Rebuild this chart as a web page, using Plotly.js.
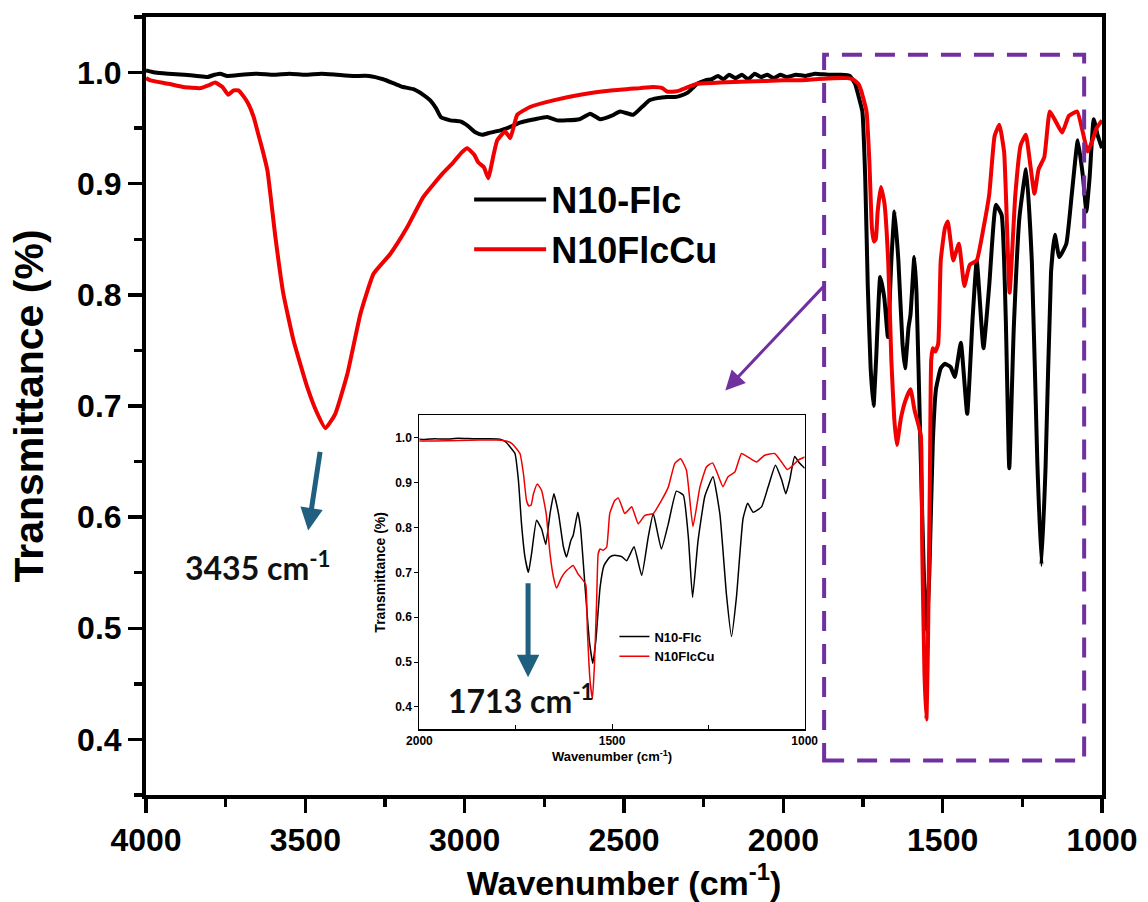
<!DOCTYPE html>
<html>
<head>
<meta charset="utf-8">
<script src="https://cdn.plot.ly/plotly-3.0.1.min.js"></script>
<style>html,body{margin:0;padding:0;background:#fff;}#chart{width:1148px;height:902px;}</style>
</head>
<body>
<div id="chart"></div>
<script>
// ---- data ----
const seriesNames = ["N10-Flc", "N10FlcCu"];
const wnBlack = [4000,3970,3930,3880,3840,3807,3785,3767,3745,3700,3650,3600,3550,3500,3450,3400,3350,3300,3256,3220,3193,3161,3130,3108,3090,3075,3045,3014,2990,2965,2945,2920,2888,2866,2826,2780,2741,2710,2679,2640,2606,2575,2540,2512,2471,2440,2420,2395,2365,2340,2324,2300,2285,2270,2245,2225,2205,2188,2170,2150,2130,2110,2090,2070,2050,2030,2010,1990,1960,1930,1900,1860,1820,1791,1775,1765,1752,1743,1735,1726,1717,1709,1696,1683,1672,1661,1651,1639,1626,1618,1607,1601,1589,1582,1570,1559,1550,1542,1531,1521,1506,1493,1475,1462,1443,1423,1406,1393,1372,1354,1333,1315,1302,1291,1277,1259,1238,1220,1203,1190,1177,1160,1148,1134,1112,1095,1076,1060,1049,1039,1026,1013,1000];
const tBlack = [1.002,1.000,0.999,0.998,0.997,0.996,0.998,0.999,0.997,0.998,0.999,0.998,0.999,0.998,0.999,0.998,0.997,0.997,0.994,0.990,0.987,0.985,0.980,0.975,0.968,0.960,0.957,0.956,0.952,0.946,0.944,0.946,0.948,0.950,0.955,0.958,0.960,0.957,0.957,0.958,0.963,0.958,0.961,0.965,0.962,0.970,0.975,0.977,0.978,0.978,0.979,0.982,0.986,0.990,0.993,0.994,0.997,0.994,0.998,0.995,0.998,0.994,0.999,0.996,0.998,0.995,0.998,0.996,0.998,0.997,0.999,0.998,0.998,0.997,0.990,0.980,0.965,0.905,0.808,0.734,0.700,0.741,0.816,0.797,0.762,0.831,0.875,0.831,0.756,0.734,0.771,0.782,0.834,0.801,0.667,0.548,0.497,0.548,0.667,0.715,0.734,0.738,0.735,0.726,0.757,0.693,0.779,0.831,0.752,0.808,0.881,0.872,0.779,0.644,0.769,0.870,0.913,0.829,0.650,0.557,0.646,0.820,0.854,0.834,0.846,0.890,0.939,0.907,0.875,0.905,0.958,0.943,0.932];
const wnRed = [4000,3986,3930,3883,3830,3800,3783,3760,3742,3725,3710,3695,3679,3662,3648,3634,3619,3594,3569,3537,3494,3462,3437,3406,3368,3327,3286,3233,3180,3130,3067,3036,3010,2992,2970,2957,2940,2926,2910,2898,2873,2857,2835,2795,2722,2637,2534,2450,2408,2380,2365,2340,2324,2290,2270,2200,2113,2000,1957,1900,1843,1800,1782,1765,1756,1739,1730,1722,1716,1710,1704,1694,1683,1671,1661,1652,1644,1631,1618,1601,1588,1575,1568,1564,1557,1551,1546,1540,1536,1531,1523,1514,1506,1493,1484,1475,1467,1449,1432,1415,1393,1372,1354,1337,1322,1307,1290,1272,1255,1239,1225,1212,1199,1181,1164,1147,1125,1104,1078,1060,1045,1030,1017,1000];
const tRed = [0.995,0.993,0.990,0.987,0.986,0.989,0.991,0.987,0.980,0.984,0.984,0.979,0.972,0.960,0.945,0.930,0.912,0.852,0.801,0.759,0.717,0.693,0.680,0.693,0.729,0.783,0.819,0.837,0.861,0.888,0.910,0.919,0.928,0.932,0.926,0.919,0.915,0.905,0.925,0.939,0.947,0.941,0.962,0.969,0.975,0.980,0.984,0.986,0.987,0.986,0.983,0.983,0.984,0.988,0.990,0.991,0.992,0.993,0.993,0.994,0.995,0.995,0.994,0.990,0.984,0.965,0.920,0.860,0.848,0.850,0.875,0.897,0.883,0.831,0.741,0.689,0.665,0.689,0.704,0.715,0.696,0.682,0.672,0.570,0.458,0.418,0.488,0.637,0.741,0.752,0.749,0.756,0.831,0.860,0.866,0.848,0.831,0.846,0.808,0.827,0.831,0.860,0.890,0.943,0.953,0.928,0.802,0.890,0.935,0.944,0.917,0.891,0.913,0.924,0.965,0.957,0.946,0.961,0.965,0.946,0.929,0.939,0.950,0.957];
const xTicks = [4000,3500,3000,2500,2000,1500,1000];
const yTicks = [0.4,0.5,0.6,0.7,0.8,0.9,1.0];
const insetXTicks = [2000,1500,1000];
const peakLabels = ["3435 cm<sup>-1</sup>", "1713 cm<sup>-1</sup>"];

// ---- styles ----
const BLACK = "#000000", RED = "#f00000", PURPLE = "#7030a0", TEAL = "#1f6080";
const AR = "Liberation Sans, Arial, sans-serif";

function tr(x, y, name, color, w, xa, ya, legendId, show) {
  return {x: x, y: y, name: name, type: "scatter", mode: "lines",
    line: {color: color, width: w, shape: "spline", smoothing: 0.4},
    xaxis: xa, yaxis: ya, legend: legendId, showlegend: show, hoverinfo: "skip"};
}

const data = [
  tr(wnBlack, tBlack, seriesNames[0], BLACK, 4, "x", "y", "legend", true),
  tr(wnRed, tRed, seriesNames[1], RED, 4, "x", "y", "legend", true),
  tr(wnBlack, tBlack, seriesNames[0], BLACK, 1.5, "x2", "y2", "legend2", true),
  tr(wnRed, tRed, seriesNames[1], RED, 1.5, "x2", "y2", "legend2", true)
];

const layout = {
  width: 1148, height: 902,
  margin: {l: 146, r: 46, t: 17, b: 107},
  paper_bgcolor: "#ffffff", plot_bgcolor: "#ffffff",
  font: {family: AR, color: "#000"},
  xaxis: {
    domain: [0, 1], range: [4000, 1000], tickvals: xTicks,
    ticks: "outside", ticklen: 14, tickwidth: 3.5, tickcolor: "#000",
    minor: {dtick: 250, tick0: 1000, ticks: "outside", ticklen: 8, tickwidth: 3.5, tickcolor: "#000", showgrid: false},
    showline: true, linewidth: 4, linecolor: "#000", mirror: true,
    showgrid: false, zeroline: false,
    tickfont: {family: AR, size: 32, weight: "bold", color: "#000"},
    title: {text: "Wavenumber (cm<sup>-1</sup>)", standoff: 0,
      font: {family: AR, size: 34, weight: "bold", color: "#000"}}
  },
  yaxis: {
    domain: [0, 1], range: [0.35, 1.05], tickvals: yTicks, tickformat: ".1f",
    ticks: "outside", ticklen: 14, tickwidth: 3.5, tickcolor: "#000",
    minor: {dtick: 0.1, tick0: 0.45, ticks: "outside", ticklen: 8, tickwidth: 3.5, tickcolor: "#000", showgrid: false},
    showline: true, linewidth: 4, linecolor: "#000", mirror: true,
    showgrid: false, zeroline: false,
    tickfont: {family: AR, size: 32, weight: "bold", color: "#000"},
    title: {text: "Transmittance (%)", standoff: 22,
      font: {family: AR, size: 41, weight: "bold", color: "#000"}}
  },
  xaxis2: {
    domain: [0.286, 0.689], anchor: "y2", range: [2000, 1000], tickvals: insetXTicks,
    ticks: "inside", ticklen: 5, tickwidth: 1, tickcolor: "#000",
    minor: {dtick: 250, tick0: 1000, ticks: "inside", ticklen: 4, tickwidth: 1, tickcolor: "#000", showgrid: false},
    showline: true, linewidth: 1.2, linecolor: "#000", mirror: true,
    showgrid: false, zeroline: false,
    tickfont: {family: AR, size: 12, weight: "bold", color: "#000"},
    title: {text: "Wavenumber (cm<sup>-1</sup>)", standoff: 4,
      font: {family: AR, size: 13, weight: "bold", color: "#000"}}
  },
  yaxis2: {
    domain: [0.0844, 0.488], anchor: "x2", range: [0.35, 1.05], tickvals: yTicks, tickformat: ".1f",
    ticks: "outside", ticklen: 4, tickwidth: 1, tickcolor: "#000",
    showline: true, linewidth: 1.2, linecolor: "#000", mirror: true,
    showgrid: false, zeroline: false,
    tickfont: {family: AR, size: 12, weight: "bold", color: "#000"},
    title: {text: "Transmittance (%)", standoff: 6,
      font: {family: AR, size: 14, weight: "bold", color: "#000"}}
  },
  legend: {
    x: 0.338, y: 0.804, xanchor: "left", yanchor: "top",
    bgcolor: "rgba(0,0,0,0)", borderwidth: 0, itemwidth: 72,
    font: {family: AR, size: 36, weight: "bold", color: "#000"},
    tracegroupgap: 0
  },
  legend2: {
    x: 0.49, y: 0.223, xanchor: "left", yanchor: "top",
    bgcolor: "rgba(0,0,0,0)", borderwidth: 0, itemwidth: 30,
    font: {family: AR, size: 13, weight: "bold", color: "#000"},
    tracegroupgap: 0
  },
  shapes: [
    {type: "rect", xref: "x", yref: "y", x0: 1872, x1: 1056, y0: 0.381, y1: 1.016,
     line: {color: PURPLE, width: 4, dash: "20px,13px"}, fillcolor: "rgba(0,0,0,0)", layer: "above"}
  ],
  annotations: [
    {xref: "x", yref: "y", axref: "x", ayref: "y", x: 2182, y: 0.714, ax: 1869, ay: 0.809,
     text: "", showarrow: true, arrowhead: 2, arrowsize: 1.3, arrowwidth: 3, arrowcolor: PURPLE},
    {xref: "x", yref: "y", axref: "x", ayref: "y", x: 3491, y: 0.588, ax: 3453, ay: 0.660,
     text: "", showarrow: true, arrowhead: 2, arrowsize: 0.9, arrowwidth: 5, arrowcolor: TEAL},
    {xref: "x2", yref: "y2", axref: "x2", ayref: "y2", x: 1718, y: 0.466, ax: 1718, ay: 0.679,
     text: "", showarrow: true, arrowhead: 2, arrowsize: 0.9, arrowwidth: 5, arrowcolor: TEAL},
    {xref: "x", yref: "y", x: 3648, y: 0.556, text: peakLabels[0], showarrow: false,
     font: {family: "Lato, Open Sans, sans-serif", size: 32, weight: "bold", color: "#111"}},
    {xref: "x2", yref: "y2", x: 1736, y: 0.417, text: peakLabels[1], showarrow: false,
     font: {family: "Lato, Open Sans, sans-serif", size: 32, weight: "bold", color: "#111"}}
  ]
};

Plotly.newPlot("chart", data, layout, {staticPlot: true, displayModeBar: false});
</script>
</body>
</html>
